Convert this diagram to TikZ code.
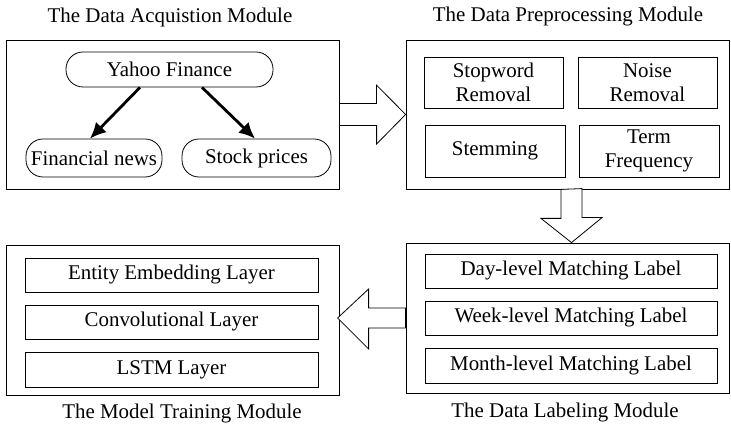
\documentclass[tikz,border=0pt]{standalone}
\usepackage{fontspec}
\setmainfont{Liberation Serif}
\usetikzlibrary{arrows.meta,calc}
\tikzset{
  module/.style={draw,line width=0.8bp,inner sep=0pt},
  part/.style={draw,line width=0.8bp,inner sep=0pt,align=center},
  source/.style={draw,line width=0.8bp,inner sep=0pt,rounded corners=17bp},
  title/.style={inner sep=0pt},
  flow/.style={line width=2.8bp,-{Latex[length=16bp,width=15bp]}},
  bigarrow/.style={draw,line width=0.8bp,fill=white,line join=miter},
}
\begin{document}
\begin{tikzpicture}[font=\fontsize{21}{24.5}\selectfont]
\useasboundingbox (0bp,0bp) rectangle (731bp,425bp);
%%
\node (acq) at (172.5bp,310.5bp) [module,minimum width=333bp,minimum height=149bp] {};
  \node (pre) at (567.5bp,310.5bp) [module,minimum width=323bp,minimum height=149bp] {};
  \node (lab) at (567.5bp,107bp) [module,minimum width=323bp,minimum height=150bp] {};
  \node (trn) at (172.5bp,105bp) [module,minimum width=333bp,minimum height=150bp] {};
  \node (acqtitle) at (170bp,408bp) [title] {The Data Acquistion Module};
  \node (pretitle) at (568bp,408bp) [title] {The Data Preprocessing Module};
  \node (trntitle) at (182bp,12bp) [title] {The Model Training Module};
  \node (labtitle) at (565bp,13bp) [title] {The Data Labeling Module};
  \node (yahoo) at (169.5bp,355.5bp) [source,minimum width=207bp,minimum height=35bp] {Yahoo Finance};
  \node (news) at (94bp,267bp) [source,minimum width=136bp,minimum height=38bp] {Financial news};
  \node (stock) at (256.5bp,267bp) [source,minimum width=149bp,minimum height=38bp] {Stock prices};
  \node (stop) at (493.5bp,342.5bp) [part,minimum width=139bp,minimum height=51bp] {Stopword\\Removal};
  \node (noise) at (647.5bp,342.5bp) [part,minimum width=139bp,minimum height=51bp] {Noise\\Removal};
  \node (stem) at (495bp,274bp) [part,minimum width=140bp,minimum height=52bp] {Stemming};
  \node (term) at (649bp,274bp) [part,minimum width=140bp,minimum height=52bp] {Term\\Frequency};
  \node (day) at (571bp,154bp) [part,minimum width=292bp,minimum height=34bp] {Day-level Matching Label};
  \node (week) at (571bp,107bp) [part,minimum width=292bp,minimum height=34bp] {Week-level Matching Label};
  \node (month) at (571bp,59.5bp) [part,minimum width=292bp,minimum height=35bp] {Month-level Matching Label};
  \node (entity) at (171.5bp,150bp) [part,minimum width=293bp,minimum height=34bp] {Entity Embedding Layer};
  \node (conv) at (171.5bp,103bp) [part,minimum width=293bp,minimum height=34bp] {Convolutional Layer};
  \node (lstm) at (171.5bp,55.5bp) [part,minimum width=293bp,minimum height=35bp] {LSTM Layer};
  \draw [flow] ($(yahoo.south)+(-29.5bp,0)$) -- ($(news.north)+(-4bp,0)$);
  \draw [flow] ($(yahoo.south)+(32.5bp,0)$) -- ($(stock.north)+(-1.5bp,0)$);
  \draw [bigarrow] ($(acq.east)+(0,11bp)$) -- ++(37bp,0) -- ++(0,18.5bp) -- (pre.west) -- ++(-29bp,-29.5bp) -- ++(0,18.5bp) -- ++(-37bp,0) -- cycle;
  \draw [bigarrow] ($(pre.south)+(-6.5bp,0)$) -- ++(0,-29bp) -- ++(-20bp,0) -- ($(lab.north)+(4bp,0)$) -- ++(30.5bp,25bp) -- ++(-20bp,0) -- ++(0,29bp) -- cycle;
  \draw [bigarrow] ($(lab.west)+(0,10bp)$) -- ++(-37bp,0) -- ++(0,19bp) -- ++(-31bp,-29bp) -- ++(31bp,-31bp) -- ++(0,21bp) -- ++(37bp,0) -- cycle;
%
\end{tikzpicture}
\end{document}
